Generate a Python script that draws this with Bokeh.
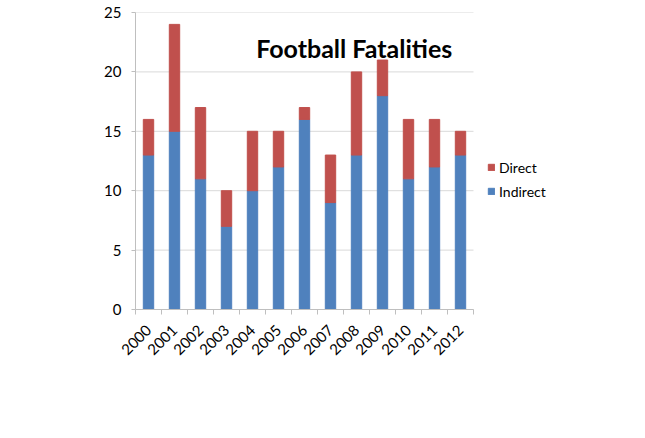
import math
from bokeh.plotting import figure
from bokeh.models import FixedTicker, Label, Legend, LegendItem, ColumnDataSource
from bokeh.embed import file_html
from bokeh.resources import INLINE

years = ["2000", "2001", "2002", "2003", "2004", "2005", "2006",
         "2007", "2008", "2009", "2010", "2011", "2012"]
indirect = [13, 15, 11, 7, 10, 12, 16, 9, 13, 18, 11, 12, 13]
direct = [3, 9, 6, 3, 5, 3, 1, 4, 7, 3, 5, 4, 2]
y_ticks = [0, 5, 10, 15, 20, 25]

BLUE = "#4F81BD"
RED = "#C0504D"
FONT = "Lato"

n = len(years)
xs = list(range(n))
totals = [a + b for a, b in zip(indirect, direct)]
src = ColumnDataSource(dict(x=xs, indirect=indirect, total=totals))

# frame widened to the right so the legend (drawn inside the frame) is not clipped
p = figure(width=645, height=438, x_range=(-0.5, n + 5.5), y_range=(0, 25),
           output_backend="svg", toolbar_location=None,
           min_border_left=135, min_border_right=16, min_border_top=12, min_border_bottom=129)
p.outline_line_color = None
p.background_fill_color = "white"
p.border_fill_color = "white"

# horizontal gridlines limited to the category area
p.segment(x0=[-0.5] * len(y_ticks), x1=[n - 0.5] * len(y_ticks), y0=y_ticks, y1=y_ticks,
          line_color="#d9d9d9", line_width=1)

r_ind = p.vbar(x="x", bottom=0, top="indirect", width=0.4, color=BLUE, source=src)
r_dir = p.vbar(x="x", bottom="indirect", top="total", width=0.4, color=RED, source=src)

# axes
p.xaxis.bounds = (-0.5, n - 0.5)
p.xaxis.ticker = FixedTicker(ticks=xs, minor_ticks=[i - 0.5 for i in range(n + 1)])
p.xaxis.major_label_overrides = {i: y for i, y in enumerate(years)}
p.xaxis.major_label_orientation = math.pi / 4
p.xaxis.major_tick_line_color = None
p.xaxis.minor_tick_out = 5
p.xaxis.minor_tick_in = 0
p.xaxis.minor_tick_line_color = "#bfbfbf"
p.xaxis.axis_line_color = "#bfbfbf"
p.xaxis.major_label_text_font = FONT
p.xaxis.major_label_text_font_size = "15px"
p.xaxis.major_label_text_color = "#000000"
p.xaxis.major_label_standoff = 12

p.yaxis.ticker = FixedTicker(ticks=y_ticks)
p.yaxis.minor_tick_line_color = None
p.yaxis.major_tick_out = 4
p.yaxis.major_tick_in = 0
p.yaxis.major_tick_line_color = "#bfbfbf"
p.yaxis.axis_line_color = "#bfbfbf"
p.yaxis.major_label_text_font = FONT
p.yaxis.major_label_text_font_size = "15px"
p.yaxis.major_label_text_color = "#000000"
p.yaxis.major_label_standoff = 10

p.xgrid.grid_line_color = None
p.ygrid.grid_line_color = None

title = Label(x=4.14, y=22.05, text="Football Fatalities", text_font=FONT,
              text_font_size="25px", text_font_style="bold", text_color="#000000",
              text_baseline="middle", text_align="left")
p.add_layout(title)

legend = Legend(items=[LegendItem(label="Direct", renderers=[r_dir]),
                       LegendItem(label="Indirect", renderers=[r_ind])],
                location=(352, 108), padding=0, margin=0, spacing=4,
                glyph_width=8, glyph_height=8, label_height=20, label_standoff=4,
                label_text_font=FONT, label_text_font_size="14px",
                label_text_color="#000000", border_line_color=None,
                background_fill_alpha=0)
p.add_layout(legend)

open("out.html", "w").write(file_html(p, INLINE))
